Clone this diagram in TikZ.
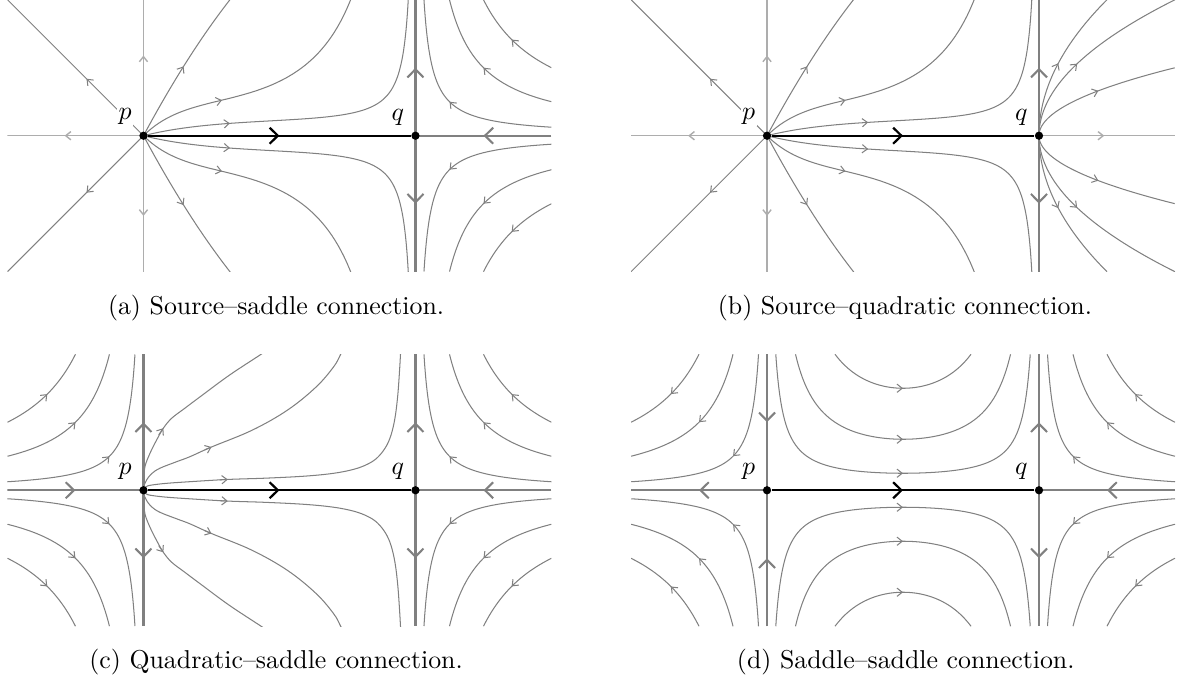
\documentclass[tikz,border=0pt]{standalone}
\usetikzlibrary{arrows.meta,decorations.markings}
\newcommand\PanelStar{%
  \draw[lightax, smallarr=0.59] (0,0) -- (0,1);
  \draw[lightax, smallarr=0.59] (0,0) -- (0,-1);
  \draw[lightax, smallarr=0.58] (0,0) -- (-1,0);
  \draw[trajline, smallarr=0.42] (0,0) -- (-1,1);
  \draw[trajline, smallarr=0.42] (0,0) -- (-1,-1);
}
\newcommand\PanelMidSource[1]{%
  \foreach \sy in {1,-1}{%
    \begin{scope}[yscale=\sy]
      \draw[trajline, smallarr=#1] plot[domain=0:1, samples=100] ({xone(\x)},{fone(xone(\x))});
      \draw[trajline, smallarr=1.19cm] plot[domain=0:1.54, samples=70] (\x,{ftwo(\x)});
      \draw[trajline, smallarr=1.09cm] plot[domain=0:0.645, samples=30] (\x,{fthree(\x)});
    \end{scope}}%
}
\newcommand\PanelRightSaddle{%
  \foreach \sy in {1,-1}{%
    \begin{scope}[yscale=\sy]
      \foreach \hc in {0.5,0.25,0.0625}{%
        \draw[trajline, smallarr=0.5] plot[domain=0:1, samples=60] ({2+exp(\x*ln(\hc))},{exp((1-\x)*ln(\hc))});}
    \end{scope}}%
  \draw[thickax, bigarr=0.5] (3,0) -- (2,0);
  \draw[thickax, bigarr=0.5] (2,0) -- (2,1);
  \draw[thickax, bigarr=0.5] (2,0) -- (2,-1);
}
\newcommand\PanelRightQuad{%
  \foreach \sy in {1,-1}{%
    \begin{scope}[yscale=\sy]
      \foreach \ka/\km/\kd in {0.5/1.0/1.03cm, 1/1.0/1.14cm, 4/0.5/1.06cm}{%
        \draw[trajline, smallarr=\kd] plot[domain=0:\km, samples=50] ({2+\ka*\x*\x},\x);}
    \end{scope}}%
  \draw[lightax, smallarr=0.48] (2,0) -- (3,0);
  \draw[thickax, bigarr=0.5] (2,0) -- (2,1);
  \draw[thickax, bigarr=0.5] (2,0) -- (2,-1);
}
\newcommand\PanelLeftIn{%
  \foreach \sy in {1,-1}{%
    \begin{scope}[yscale=\sy]
      \foreach \hc in {0.5,0.25,0.0625}{%
        \draw[trajline, smallarr=0.5] plot[domain=0:1, samples=60] ({-exp(\x*ln(\hc))},{exp((1-\x)*ln(\hc))});}
    \end{scope}}%
  \draw[thickax, bigarr=0.5] (-1,0) -- (0,0);
  \draw[thickax, bigarr=0.5] (0,0) -- (0,1);
  \draw[thickax, bigarr=0.5] (0,0) -- (0,-1);
}
\newcommand\PanelLeftOut{%
  \foreach \sy in {1,-1}{%
    \begin{scope}[yscale=\sy]
      \foreach \hc in {0.5,0.25,0.0625}{%
        \draw[trajline, smallarr=0.5] plot[domain=0:1, samples=60] ({-exp((1-\x)*ln(\hc))},{exp(\x*ln(\hc))});}
    \end{scope}}%
  \draw[thickax, bigarr=0.5] (0,0) -- (-1,0);
  \draw[thickax, bigarr=0.5] (0,1) -- (0,0);
  \draw[thickax, bigarr=0.5] (0,-1) -- (0,0);
}
\newcommand\PanelMidSaddle{%
  \foreach \sy in {1,-1}{%
    \begin{scope}[yscale=\sy]
      \foreach \hc in {0.75,0.375,0.125}{%
        \draw[trajline, smallarr=0.5] plot[domain=-90:90, samples=90] ({1+sqrt(1-\hc)*sin(\x)},{\hc/(1-(1-\hc)*sin(\x)^2)});}
    \end{scope}}%
}
\newcommand\PanelMidQuad{%
  \foreach \sy in {1,-1}{%
    \begin{scope}[yscale=\sy]
      \draw[trajline] plot[smooth, tension=0.6] coordinates {(0,0) (0.008,0.02) (0.03,0.032) (0.072,0.04) (0.17,0.051) (0.342,0.063) (0.62,0.0795) (0.9,0.089) (1.19,0.104) (1.4,0.125) (1.55,0.155) (1.65,0.193) (1.72,0.24) (1.78,0.315) (1.82,0.405) (1.85,0.535) (1.87,0.7) (1.883,0.88) (1.89,1.0) (1.893,1.05)};
      \draw[trajline, -{Straight Barb[length=2pt,width=3.2pt]}] (0.56,0.0768) -- (0.62,0.0795);
      \draw[trajline] plot[smooth, tension=0.6] coordinates {(0,0) (0.006,0.04) (0.023,0.076) (0.06,0.122) (0.121,0.162) (0.244,0.21) (0.342,0.247) (0.5,0.318) (0.8,0.442) (1.06,0.59) (1.27,0.76) (1.40,0.91) (1.45,1.0) (1.47,1.04)};
      \draw[trajline, -{Straight Barb[length=2pt,width=3.2pt]}] (0.45,0.297) -- (0.5,0.318);
      \draw[trajline] plot[smooth, tension=0.6] coordinates {(0,0) (0.002,0.07) (0.011,0.174) (0.048,0.272) (0.097,0.37) (0.146,0.456) (0.207,0.529) (0.3,0.6) (0.42,0.69) (0.63,0.845) (0.865,1.0) (0.92,1.04)};
      \draw[trajline, -{Straight Barb[length=2pt,width=3.2pt]}] (0.112,0.407) -- (0.146,0.456);
    \end{scope}}%
}
\begin{document}
\begin{tikzpicture}[x=1.85cm, y=1.85cm,
  trajline/.style={draw=black!50, line width=0.4pt},
  lightax/.style={draw=black!32, line width=0.55pt},
  thickax/.style={draw=black!50, line width=0.8pt},
  connline/.style={draw=black, line width=0.85pt},
  smallarr/.style={postaction={decorate, decoration={markings, mark=at position #1 with {\arrow{Straight Barb[length=2pt,width=3.2pt]}}}}},
  bigarr/.style={postaction={decorate, decoration={markings, mark=at position #1 with {\arrow{Straight Barb[length=3.2pt,width=6.2pt]}}}}},
  dotnode/.style={circle, fill=black, inner sep=0pt, minimum size=3.2pt},
  labnode/.style={fill=white, inner sep=0.6pt},
  capnode/.style={anchor=base, inner sep=0pt, font=\fontsize{10}{12}\selectfont},
  declare function={
    xone(\t)=1.952*(1-(1-\t)*(1-\t));
    fone(\x)=0.506*\x*exp(-1.5*\x)/(2-\x);
    ftwo(\x)=\x*(0.285+1.71*exp(-2.7*\x))/(2-\x);
    fthree(\x)=1.864*\x-0.458*\x*\x;
  }]
\useasboundingbox (0,0) rectangle (8.662,-4.971);

% (a) source--saddle
\begin{scope}[shift={(1.055,-0.998)}]
  \begin{scope}
    \clip (-1,-1) rectangle (3,1);
    \PanelStar
    \PanelMidSource{1.19cm}
    \PanelRightSaddle
  \end{scope}
  \node[dotnode] (pa) at (0,0) {};
  \node[dotnode] (qa) at (2,0) {};
  \draw[connline, bigarr=0.5] (pa) -- (qa);
  \node[labnode] (lpa) at (-0.135,0.14) {$p$};
  \node[labnode] (lqa) at (1.87,0.135) {$q$};
\end{scope}

% (b) source--quadratic
\begin{scope}[shift={(5.64,-0.998)}]
  \begin{scope}
    \clip (-1,-1) rectangle (3,1);
    \PanelStar
    \PanelMidSource{1.39cm}
    \PanelRightQuad
  \end{scope}
  \node[dotnode] (pb) at (0,0) {};
  \node[dotnode] (qb) at (2,0) {};
  \draw[connline, bigarr=0.5] (pb) -- (qb);
  \node[labnode] (lpb) at (-0.135,0.14) {$p$};
  \node[labnode] (lqb) at (1.87,0.135) {$q$};
\end{scope}

% (c) quadratic--saddle
\begin{scope}[shift={(1.055,-3.605)}]
  \begin{scope}
    \clip (-1,-1) rectangle (3,1);
    \PanelLeftIn
    \PanelMidQuad
    \PanelRightSaddle
  \end{scope}
  \node[dotnode] (pc) at (0,0) {};
  \node[dotnode] (qc) at (2,0) {};
  \draw[connline, bigarr=0.5] (pc) -- (qc);
  \node[labnode] (lpc) at (-0.135,0.14) {$p$};
  \node[labnode] (lqc) at (1.87,0.135) {$q$};
\end{scope}

% (d) saddle--saddle
\begin{scope}[shift={(5.64,-3.605)}]
  \begin{scope}
    \clip (-1,-1) rectangle (3,1);
    \PanelLeftOut
    \PanelMidSaddle
    \PanelRightSaddle
  \end{scope}
  \node[dotnode] (pd) at (0,0) {};
  \node[dotnode] (qd) at (2,0) {};
  \draw[connline, bigarr=0.5] (pd) -- (qd);
  \node[labnode] (lpd) at (-0.135,0.14) {$p$};
  \node[labnode] (lqd) at (1.87,0.135) {$q$};
\end{scope}

\node[capnode] (capa) at (2.03,-2.316) {(a) Source--saddle connection.};
\node[capnode] (capb) at (6.654,-2.316) {(b) Source--quadratic connection.};
\node[capnode] (capc) at (2.03,-4.919) {(c) Quadratic--saddle connection.};
\node[capnode] (capd) at (6.66,-4.919) {(d) Saddle--saddle connection.};
\end{tikzpicture}
\end{document}
